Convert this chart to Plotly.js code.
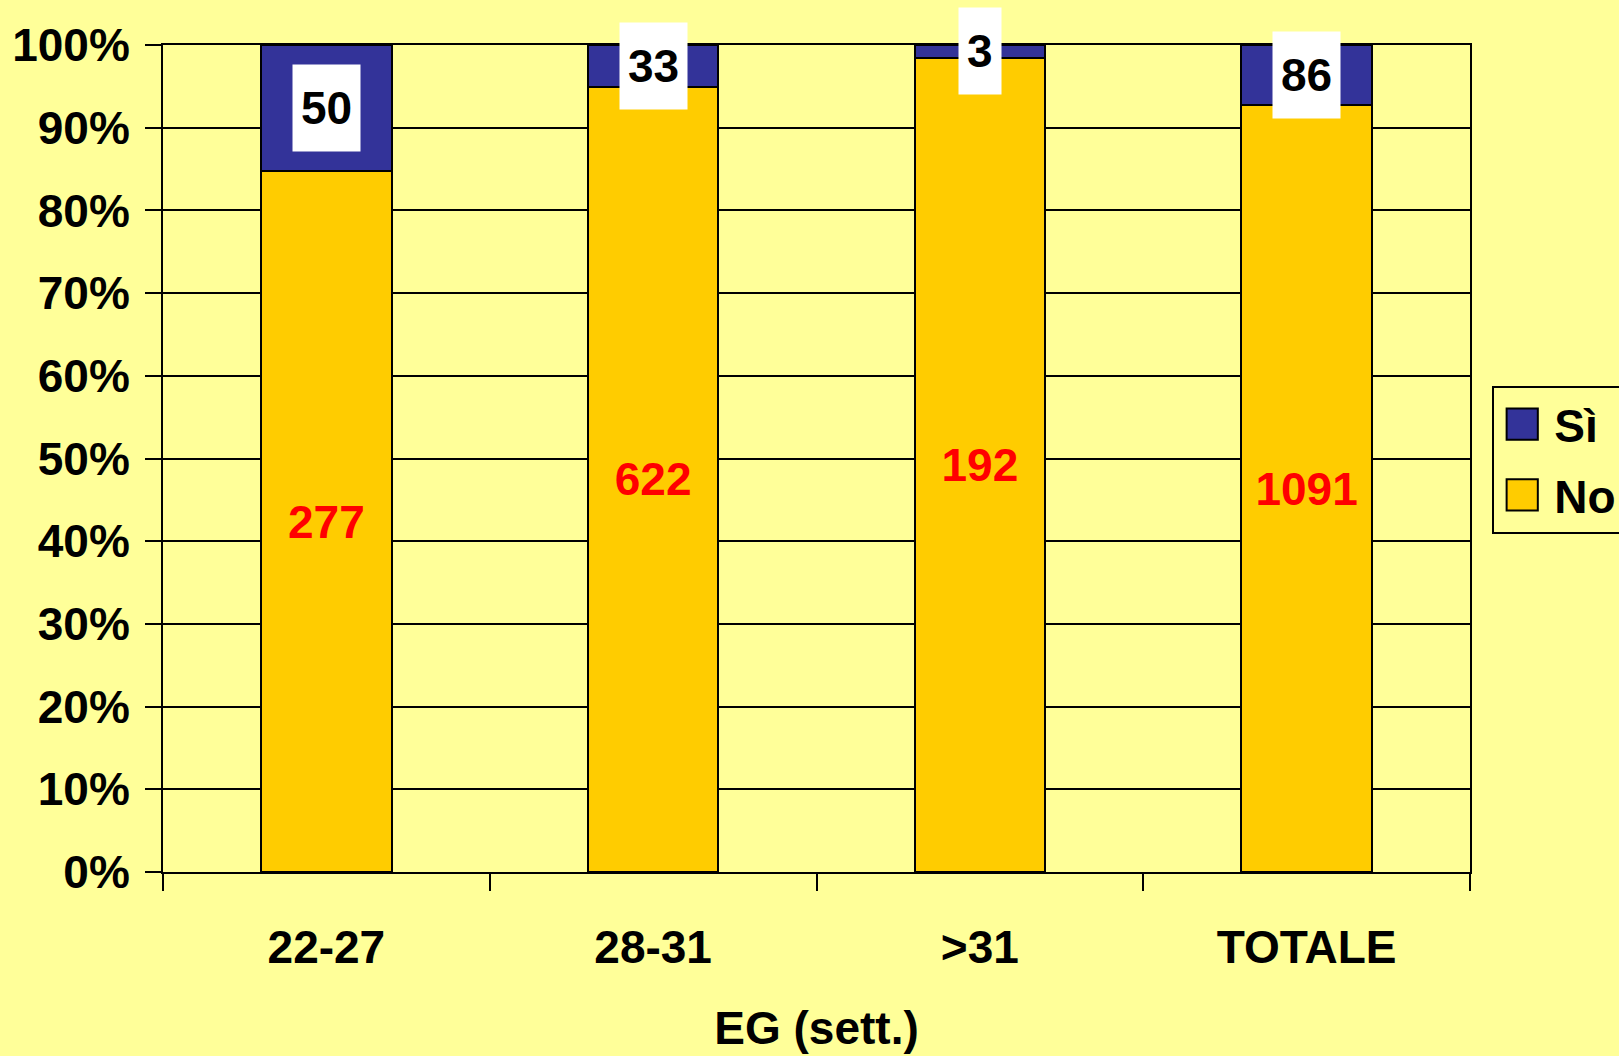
<!DOCTYPE html>
<html>
<head>
<meta charset="utf-8">
<script src="https://cdn.plot.ly/plotly-3.0.1.min.js"></script>
<style>
  html, body { margin: 0; padding: 0; background: #FFFF99; }
  #chart { width: 1619px; height: 1056px; }
</style>
</head>
<body>
<div id="chart"></div>
<script>
const categories = ["22-27", "28-31", ">31", "TOTALE"];
const siCounts = [50, 33, 3, 86];
const noCounts = [277, 622, 192, 1091];
const pctTicks = [0, 10, 20, 30, 40, 50, 60, 70, 80, 90, 100];
const pctLabels = ["0%", "10%", "20%", "30%", "40%", "50%", "60%", "70%", "80%", "90%", "100%"];

const FONT = "Liberation Sans, Arial, sans-serif";

// middle of each "Sì" segment in percent, for the white label boxes
const siMid = categories.map((c, i) => {
  const total = siCounts[i] + noCounts[i];
  const noPct = noCounts[i] / total * 100;
  return noPct + (siCounts[i] / total * 100) / 2;
});

const traces = [
  {
    type: "bar",
    name: "No",
    legendgroup: "no",
    legendrank: 2,
    x: categories,
    y: noCounts,
    text: noCounts.map(String),
    textposition: "inside",
    insidetextanchor: "middle",
    textangle: 0,
    textfont: { family: FONT, size: 46, color: "#FF0000", weight: "bold" },
    marker: { color: "#FFCC00", line: { color: "#000000", width: 2 } },
    hoverinfo: "none"
  },
  {
    type: "bar",
    name: "Sì",
    legendgroup: "si",
    legendrank: 1,
    x: categories,
    y: siCounts,
    marker: { color: "#333399", line: { color: "#000000", width: 2 } },
    hoverinfo: "none"
  }
];

const annotations = categories.map((c, i) => ({
  x: c,
  y: siMid[i],
  xref: "x",
  yref: "y",
  text: String(siCounts[i]),
  showarrow: false,
  bgcolor: "#FFFFFF",
  height: 70,
  borderpad: 8,
  font: { family: FONT, size: 46, color: "#000000", weight: "bold" }
}));

Plotly.newPlot("chart", traces, {
  width: 1619,
  height: 1056,
  margin: { l: 163, r: 149, t: 45, b: 184, autoexpand: false },
  paper_bgcolor: "#FFFF99",
  plot_bgcolor: "#FFFF99",
  barmode: "stack",
  barnorm: "percent",
  bargap: 0.6,
  showlegend: true,
  legend: {
    x: 1.017,
    y: 0.588,
    xanchor: "left",
    yanchor: "top",
    traceorder: "grouped",
    tracegroupgap: 8,
    itemwidth: 50,
    bgcolor: "#FFFF99",
    bordercolor: "#000000",
    borderwidth: 2,
    font: { family: FONT, size: 46, color: "#000000", weight: "bold" }
  },
  xaxis: {
    type: "category",
    tickson: "boundaries",
    ticks: "outside",
    ticklen: 17,
    tickwidth: 2,
    tickcolor: "#000000",
    ticklabelstandoff: 34,
    showline: true,
    mirror: true,
    linecolor: "#000000",
    linewidth: 2,
    tickfont: { family: FONT, size: 46, color: "#000000", weight: "bold" },
    title: {
      text: "EG (sett.)",
      standoff: 40,
      font: { family: FONT, size: 46, color: "#000000", weight: "bold" }
    }
  },
  yaxis: {
    range: [0, 100],
    tickmode: "array",
    tickvals: pctTicks,
    ticktext: pctLabels,
    ticks: "outside",
    ticklen: 16,
    tickwidth: 2,
    tickcolor: "#000000",
    ticklabelstandoff: 6,
    showgrid: true,
    gridcolor: "#000000",
    gridwidth: 2,
    showline: true,
    mirror: true,
    linecolor: "#000000",
    linewidth: 2,
    zeroline: false,
    tickfont: { family: FONT, size: 46, color: "#000000", weight: "bold" }
  },
  annotations: annotations
}, { staticPlot: true }).then(gd => {
  // legend swatches are bigger in the original slide
  gd.querySelectorAll(".legend .legendpoints path").forEach(p => {
    p.setAttribute("transform", "translate(28,0) scale(2.6)");
    p.style.vectorEffect = "non-scaling-stroke";
  });
});
</script>
</body>
</html>
